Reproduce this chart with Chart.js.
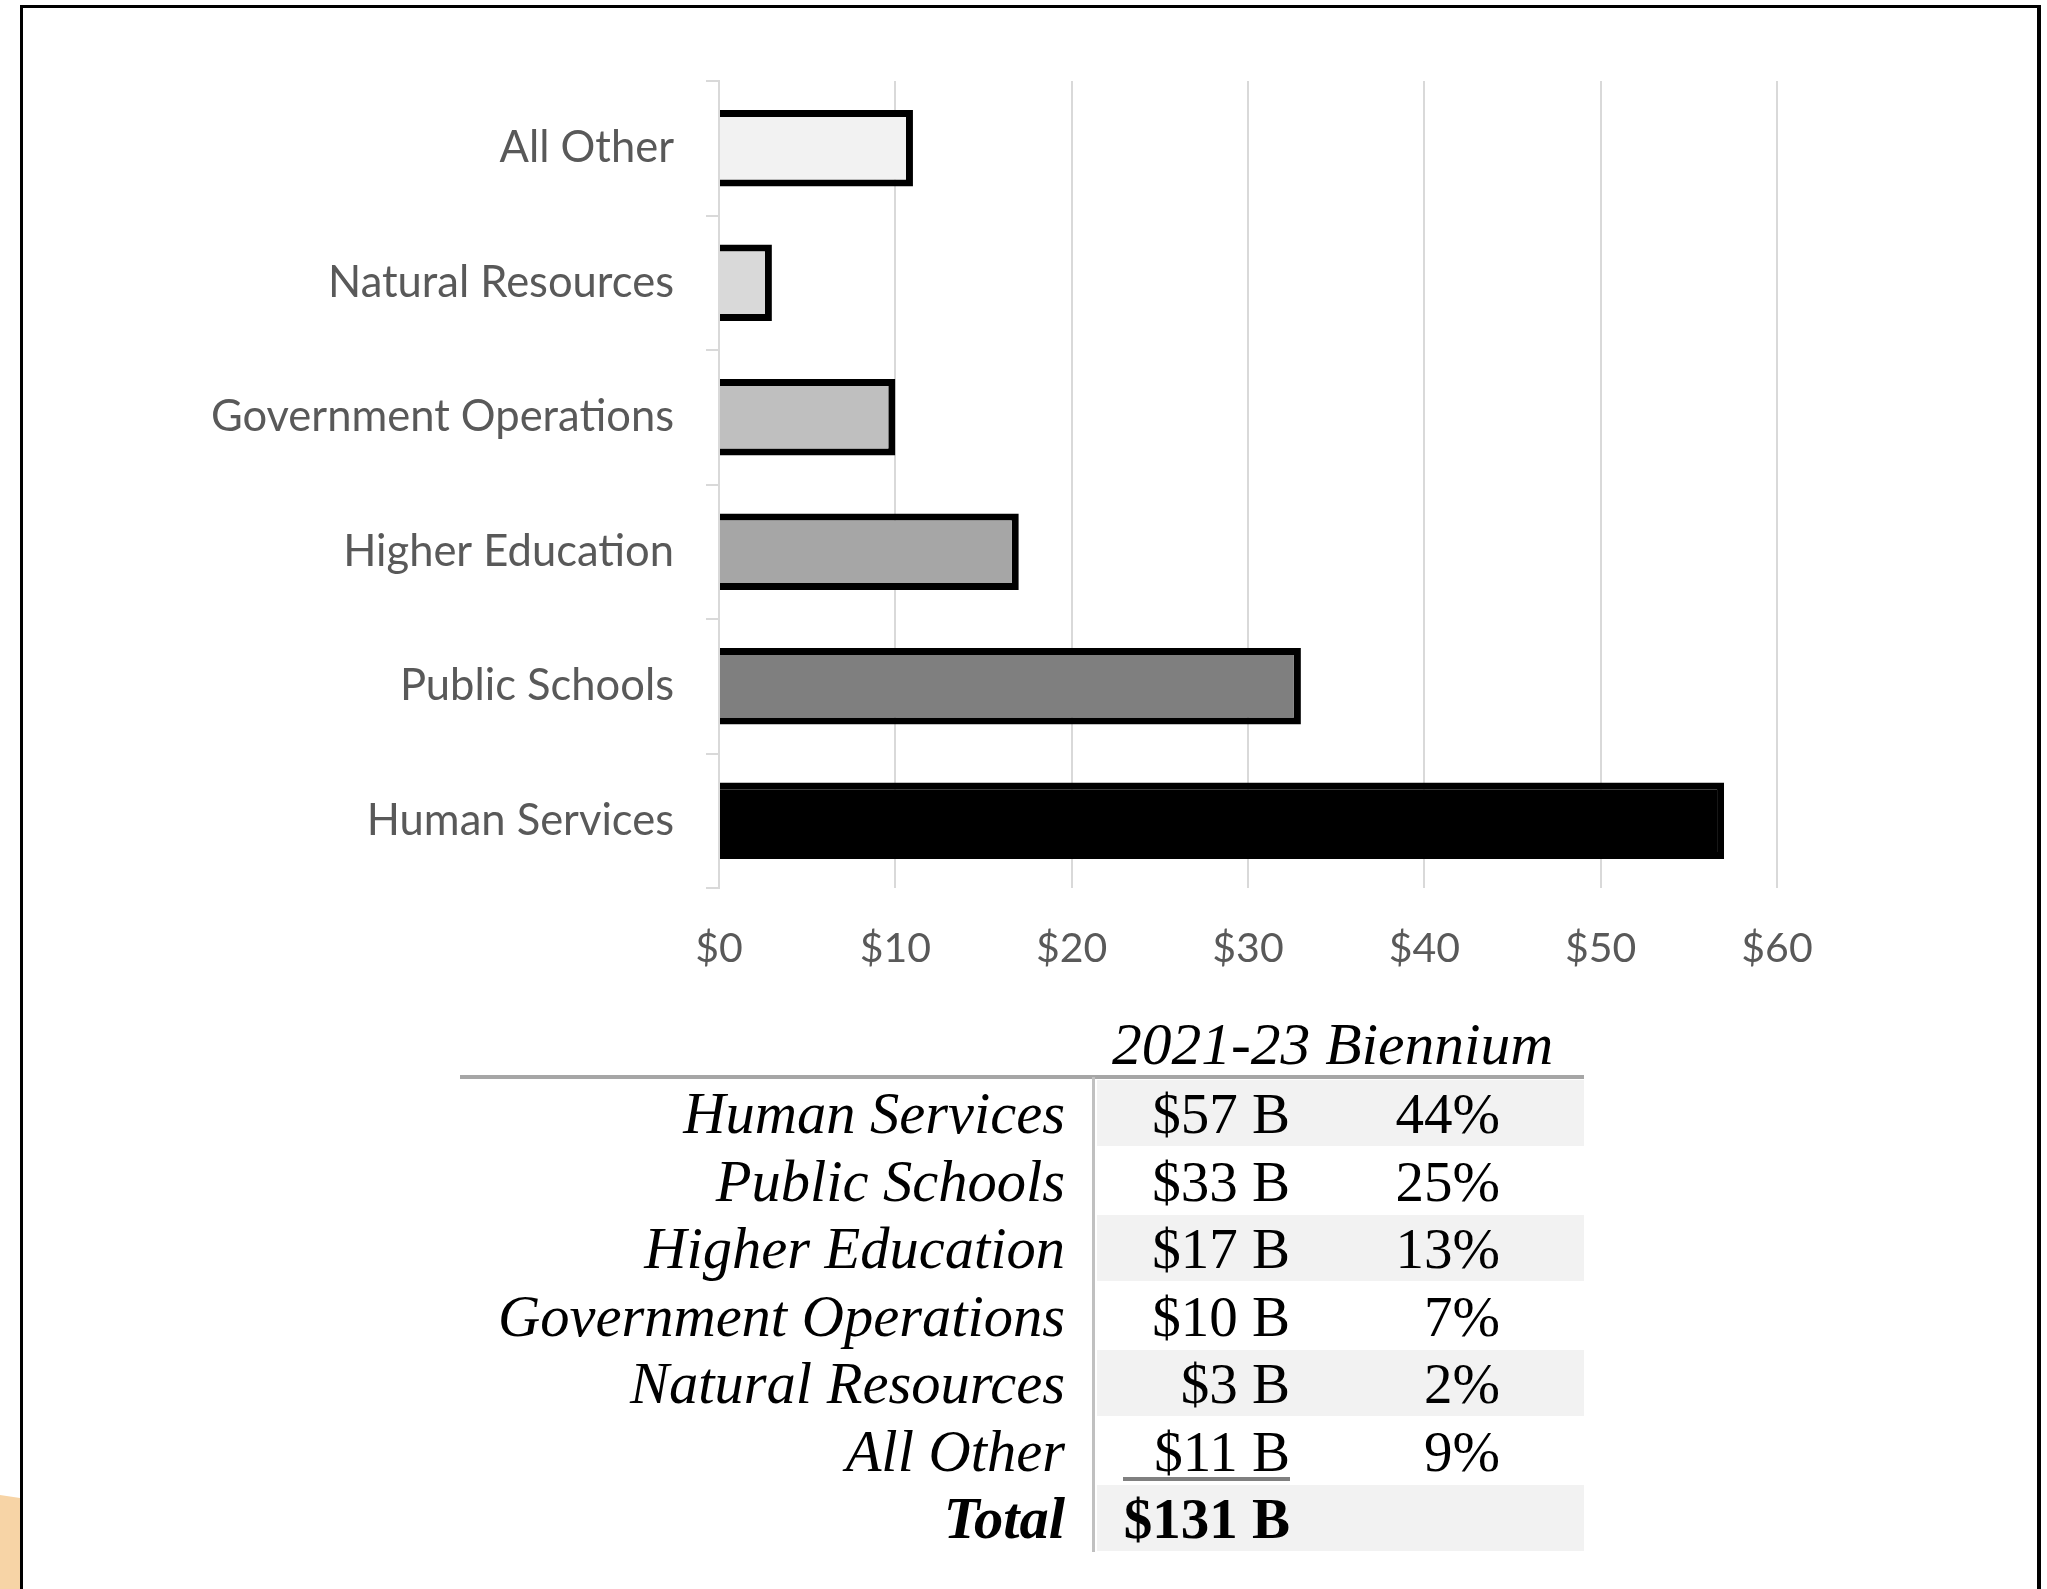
<!DOCTYPE html>
<html>
<head>
<meta charset="utf-8">
<script src="https://cdn.jsdelivr.net/npm/chart.js@4/dist/chart.umd.min.js"></script>
<style>
  html, body { margin: 0; padding: 0; background: #fff; }
  body { width: 2047px; height: 1589px; position: relative; overflow: hidden; }
  #frame { position: absolute; left: 20px; top: 5px; width: 2014px; height: 1700px;
           border-left: 3px solid #000; border-top: 3px solid #000; border-right: 4px solid #000; }
  #blob { position: absolute; left: 0; top: 1495px; width: 20px; height: 94px; background: #f7d4a6;
          clip-path: polygon(0 0, 100% 3px, 100% 100%, 0 100%); }
  #wrap { position: absolute; left: 0; top: 0; width: 2047px; height: 1000px; }
  #tbl { position: absolute; left: 0; top: 0; width: 2047px; height: 1589px;
         font-family: "Liberation Serif", serif; font-size: 57px; color: #000; }
  .abs { position: absolute; white-space: nowrap; }
</style>
</head>
<body>
<div id="frame"></div>
<div id="blob"></div>
<div id="wrap"><canvas id="chart"></canvas></div>
<div id="tbl"></div>
<script>
// 2021-23 biennium spending by area, $ billions
const categories = ['Human Services', 'Public Schools', 'Higher Education',
                    'Government Operations', 'Natural Resources', 'All Other'];
const amounts = [57, 33, 17, 10, 3, 11];
const shares = [44, 25, 13, 7, 2, 9];
const total = 131;
const tableTitle = '2021-23 Biennium';
const xTicks = [0, 10, 20, 30, 40, 50, 60];

new Chart(document.getElementById('chart'), {
    type: 'bar',
    data: {
        labels: categories,
        datasets: [{
            data: amounts,
            backgroundColor: ['#000000', '#7f7f7f', '#a6a6a6', '#bfbfbf', '#d9d9d9', '#f2f2f2'],
            borderColor: '#000000',
            borderWidth: 7,
            barPercentage: 0.57,
            categoryPercentage: 1
        }]
    },
    options: {
        indexAxis: 'y',
        responsive: true,
        maintainAspectRatio: false,
        animation: false,
        layout: { padding: { left: 0, right: 270, top: 81, bottom: 0 } },
        plugins: { legend: { display: false }, tooltip: { enabled: false } },
        scales: {
            y: {
                reverse: true,
                grid: { drawOnChartArea: false, color: '#d9d9d9', lineWidth: 2, tickLength: 13 },
                border: { color: '#d9d9d9', width: 2 },
                ticks: { color: '#595959', padding: 32, font: { family: 'Lato', size: 43.5 } },
                afterFit: s => { s.width = 719; }
            },
            x: {
                min: xTicks[0],
                max: xTicks[xTicks.length - 1],
                afterBuildTicks: s => { s.ticks = xTicks.map(v => ({ value: v })); },
                grid: { color: '#d9d9d9', lineWidth: 2, drawTicks: false },
                border: { display: false },
                ticks: {
                    color: '#595959', padding: 36,
                    font: { family: 'Lato', size: 41 },
                    callback: v => `$${v}`
                },
                afterFit: s => { s.height = 112; }
            }
        }
    }
});

// summary table under the chart
const tbl = document.getElementById('tbl');
function put(text, css) {
    const d = document.createElement('div');
    d.className = 'abs';
    d.textContent = text;
    Object.assign(d.style, css);
    tbl.appendChild(d);
    return d;
}
const rowTop = 1080, rowH = 67.5;

put(tableTitle, { left: '1112px', top: (1044 - 34) + 'px', height: '68px', lineHeight: '68px',
                  fontStyle: 'italic', fontSize: '59.5px' });

const rows = categories.map((c, i) => ({ label: c, amt: `$${amounts[i]} B`, pct: `${shares[i]}%` }));
rows.push({ label: 'Total', amt: `$${total} B`, pct: '', bold: true });

rows.forEach((r, i) => {
    const top = rowTop + i * rowH;
    if (i % 2 === 0) {
        put('', { left: '1097px', top: top + 'px', width: '487px', height: (rowH - 2) + 'px', background: '#f2f2f2' });
    }
    const base = { top: top + 'px', height: rowH + 'px', lineHeight: rowH + 'px' };
    put(r.label, Object.assign({}, base, { right: (2047 - 1065) + 'px', fontStyle: 'italic', fontSize: '58.5px',
                                           fontWeight: r.bold ? 'bold' : 'normal' }));
    put(r.amt, Object.assign({}, base, { right: (2047 - 1290) + 'px', fontWeight: r.bold ? 'bold' : 'normal' }));
    if (r.pct) put(r.pct, Object.assign({}, base, { right: (2047 - 1500) + 'px' }));
});

// header rule, divider, underline above the total
put('', { left: '460px', top: '1075px', width: '1124px', height: '4px', background: '#a6a6a6' });
put('', { left: '1092px', top: '1077px', width: '3px', height: '475px', background: '#c0c0c0' });
put('', { left: '1123px', top: (rowTop + 6 * rowH - 8) + 'px', width: '167px', height: '4px', background: '#808080' });
</script>
</body>
</html>
